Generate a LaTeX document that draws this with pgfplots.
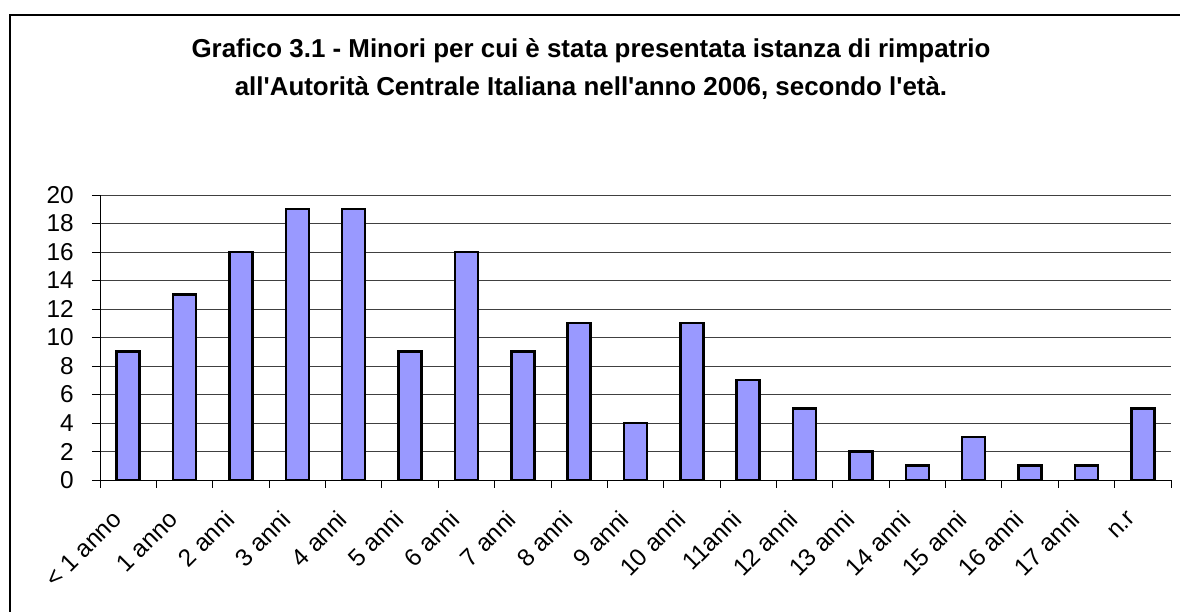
\documentclass[border=0pt]{standalone}
\usepackage{pgfplots}
\pgfplotsset{compat=1.18}
\usepackage{fontspec}
\setmainfont{Liberation Sans}
\definecolor{barblue}{HTML}{9999FF}
\begin{document}
\begin{tikzpicture}[x=1bp,y=1bp]
\useasboundingbox (0,0) rectangle (1180,612);
\draw[line width=1.3bp] (10,-10) -- (10,597) -- (1190,597);
\node[font=\fontsize{26}{38}\selectfont\bfseries, align=center] at (591,543) {Grafico 3.1 - Minori per cui è stata presentata istanza di rimpatrio\\all\textquotesingle Autorità Centrale Italiana nell\textquotesingle anno 2006, secondo l\textquotesingle età.};
\begin{axis}[
  at={(100bp,132bp)}, anchor=south west,
  scale only axis, width=1071bp, height=285bp,
  xmin=-0.5, xmax=18.5, ymin=0, ymax=20,
  axis lines*=left,
  axis line style={line width=0.9bp},
  ytick={0,2,...,20},
  ymajorgrids, grid style={line width=0.8bp, black!75},
  major tick length=8bp,
  tick align=outside,
  tick style={line width=0.9bp, black},
  xtick={-0.5,0.5,...,18.5},
  xticklabels={},
  extra x ticks={0,...,18},
  extra x tick labels={{< 1 anno},{1 anno},{2 anni},{3 anni},{4 anni},{5 anni},{6 anni},{7 anni},{8 anni},{9 anni},{10 anni},{11anni},{12 anni},{13 anni},{14 anni},{15 anni},{16 anni},{17 anni},{n.r}},
  extra x tick style={major tick length=0pt, tick style={draw=none}},
  /pgf/number format/assume math mode=true,
  ticklabel style={font=\fontsize{24.5}{26}\selectfont},
  yticklabel style={inner sep=0pt, anchor=east, xshift=-18bp},
  xticklabel style={inner sep=0pt, anchor=east, xshift=-11bp, yshift=-35bp, rotate=45},
  ybar, bar width=23bp,
]
\addplot[fill=barblue, draw=black, line width=2.5bp] coordinates {
(0,9) (1,13) (2,16) (3,19) (4,19) (5,9) (6,16) (7,9) (8,11) (9,4) (10,11) (11,7) (12,5) (13,2) (14,1) (15,3) (16,1) (17,1) (18,5)
};
\end{axis}
\end{tikzpicture}
\end{document}
